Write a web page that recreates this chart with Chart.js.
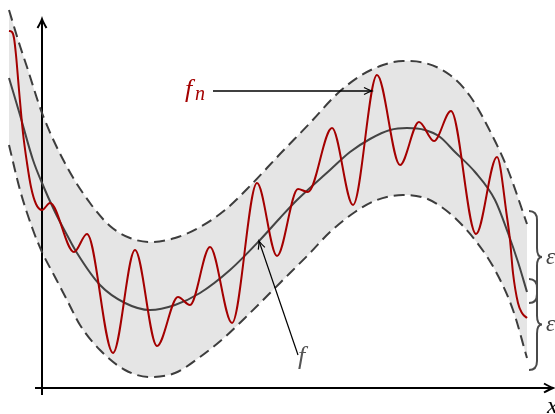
<!DOCTYPE html>
<html><head><meta charset="utf-8">
<script src="https://cdn.jsdelivr.net/npm/chart.js@4"></script>
<style>html,body{margin:0;padding:0;background:#fff}canvas{display:block}</style>
</head><body>
<canvas id="c" width="555" height="414"></canvas>
<script>
// ---- data (origin = axes crossing) ----
const fX = [-33,-22,-9,0,13,25,35,58,83,108,133,158,188,218,238,255,288,308,328,348,365,383,398,413,433,453,466,476,485];
const fY = [310,273,228,205,176,153,135,103,85,78,83,95,118,148,170,188,218,236,249,258,260,258,251,236,216,188,155,126,96];

const upperX = [-33,-22,-15,0,25,48,68,88,108,133,158,183,208,238,268,295,318,341,361,383,408,428,450,466,485];
const upperY = [378,342,321,275,221,185,162,150,146,150,161,178,202,234,265,294,312,323,327,325,313,292,253,218,164];

const lowerX = [-33,-22,-9,0,13,25,38,58,83,108,133,158,183,208,238,268,288,313,335,361,383,398,413,433,453,471,485];
const lowerY = [243,198,158,136,111,88,63,38,18,11,15,31,51,75,105,135,156,176,188,193,190,182,170,148,118,78,30];

const fnX = [-33,-30,-28,-26,-23,-19,-15,-11,-6,0,8,32,45,71,93,115,136,148,168,190,215,235,256,266,290,311,335,358,377,392,409,434,455,465,468,471,476,480,485];
const fnY = [357,356,350,333,298,255,225,201,184,178,185,136,154,35,138,42,91,83,141,65,205,132,199,196,260,183,313,223,266,247,277,154,231,171,148,115,85,75,70];

const labels = { fn: ['f', 'n'], f: 'f', eps: 'ε', xAxis: 'x' };

// ---- build ----
const pts = (xs, ys) => xs.map((x, i) => ({ x, y: ys[i] }));
const RED = '#a40000', DARK = '#444444', DASH = '#3d3d3d', BAND = '#e5e5e5';
const serif = '"Liberation Serif", "DejaVu Serif", serif';

function arrowHead(ctx, x, y, ang, len, half) {
  ctx.save();
  ctx.translate(x, y); ctx.rotate(ang);
  ctx.beginPath();
  ctx.moveTo(-len, -half);
  ctx.quadraticCurveTo(-len * 0.35, -half * 0.25, 0, 0);
  ctx.quadraticCurveTo(-len * 0.35, half * 0.25, -len, half);
  ctx.stroke();
  ctx.restore();
}
function arrow(ctx, x1, y1, x2, y2, lw, len, half) {
  ctx.lineWidth = lw;
  ctx.beginPath(); ctx.moveTo(x1, y1); ctx.lineTo(x2, y2); ctx.stroke();
  arrowHead(ctx, x2, y2, Math.atan2(y2 - y1, x2 - x1), len, half);
}
function brace(ctx, x0, y0, y1) {
  const a = 8, t = 5, r = 9, m = (y0 + y1) / 2;
  ctx.beginPath();
  ctx.moveTo(x0, y0);
  ctx.quadraticCurveTo(x0 + a, y0, x0 + a, y0 + r);
  ctx.lineTo(x0 + a, m - r);
  ctx.quadraticCurveTo(x0 + a, m, x0 + a + t, m);
  ctx.quadraticCurveTo(x0 + a, m, x0 + a, m + r);
  ctx.lineTo(x0 + a, y1 - r);
  ctx.quadraticCurveTo(x0 + a, y1, x0, y1);
  ctx.stroke();
}

const axesPlugin = {
  id: 'axesDecor',
  beforeDatasetsDraw(chart) {
    const ctx = chart.ctx, sx = chart.scales.x, sy = chart.scales.y;
    const X = v => sx.getPixelForValue(v), Y = v => sy.getPixelForValue(v);
    ctx.save();
    ctx.strokeStyle = '#000'; ctx.lineCap = 'butt';
    arrow(ctx, X(0), Y(-7), X(0), Y(369), 2, 9, 4.5);
    arrow(ctx, X(-7), Y(0), X(511), Y(0), 2, 9, 4.5);
    ctx.restore();
  },
  afterDatasetsDraw(chart) {
    const ctx = chart.ctx, sx = chart.scales.x, sy = chart.scales.y;
    const X = v => sx.getPixelForValue(v), Y = v => sy.getPixelForValue(v);
    ctx.save();
    // f_n label and arrow
    ctx.fillStyle = RED; ctx.textBaseline = 'alphabetic';
    ctx.font = 'italic 26px ' + serif;
    ctx.fillText(labels.fn[0], X(143), Y(291));
    ctx.font = 'italic 20px ' + serif;
    ctx.fillText(labels.fn[1], X(153), Y(288));
    ctx.strokeStyle = '#000';
    arrow(ctx, X(171), Y(297), X(330), Y(297), 1.3, 8, 3.5);
    // f label and arrow
    ctx.fillStyle = '#555';
    ctx.font = 'italic 26px ' + serif;
    ctx.fillText(labels.f, X(256), Y(24));
    arrow(ctx, X(256), Y(33), X(217), Y(147), 1.2, 8, 3.5);
    // braces with epsilon
    const n = fX.length - 1;
    const yU = Y(upperY[upperY.length - 1]), yF = Y(fY[n]), yL = Y(lowerY[lowerY.length - 1]);
    const bx = X(487);
    ctx.strokeStyle = '#4a4a4a'; ctx.lineWidth = 2;
    brace(ctx, bx, yU - 13, yF + 11);
    brace(ctx, bx, yF - 13, yL + 12);
    ctx.fillStyle = '#444';
    ctx.font = 'italic 23px ' + serif;
    ctx.fillText(labels.eps, bx + 17, (yU + yF) / 2 + 6);
    ctx.fillText(labels.eps, bx + 17, (yF + yL) / 2 + 6);
    // x axis label
    ctx.fillStyle = '#000';
    ctx.font = 'italic 24px ' + serif;
    ctx.fillText(labels.xAxis, X(505), Y(-25));
    ctx.restore();
  }
};

new Chart(document.getElementById('c'), {
  type: 'line',
  data: {
    datasets: [
      { label: 'fn', data: pts(fnX, fnY), borderColor: RED, borderWidth: 2, pointRadius: 0, cubicInterpolationMode: 'monotone', fill: false },
      { label: 'f', data: pts(fX, fY), borderColor: DARK, borderWidth: 2, pointRadius: 0, cubicInterpolationMode: 'monotone', fill: false },
      { label: 'upper', data: pts(upperX, upperY), borderColor: DASH, borderWidth: 2, borderDash: [11, 6], pointRadius: 0, cubicInterpolationMode: 'monotone', fill: '+1', backgroundColor: BAND },
      { label: 'lower', data: pts(lowerX, lowerY), borderColor: DASH, borderWidth: 2, borderDash: [11, 6], pointRadius: 0, cubicInterpolationMode: 'monotone', fill: false }
    ]
  },
  options: {
    responsive: false, animation: false, devicePixelRatio: 1, events: [],
    layout: { padding: 0 },
    scales: {
      x: { type: 'linear', min: -42, max: 513, display: false },
      y: { type: 'linear', min: -26, max: 388, display: false }
    },
    plugins: { legend: { display: false }, tooltip: { enabled: false }, filler: { drawTime: 'beforeDatasetsDraw' } }
  },
  plugins: [axesPlugin]
});
</script>
</body></html>
